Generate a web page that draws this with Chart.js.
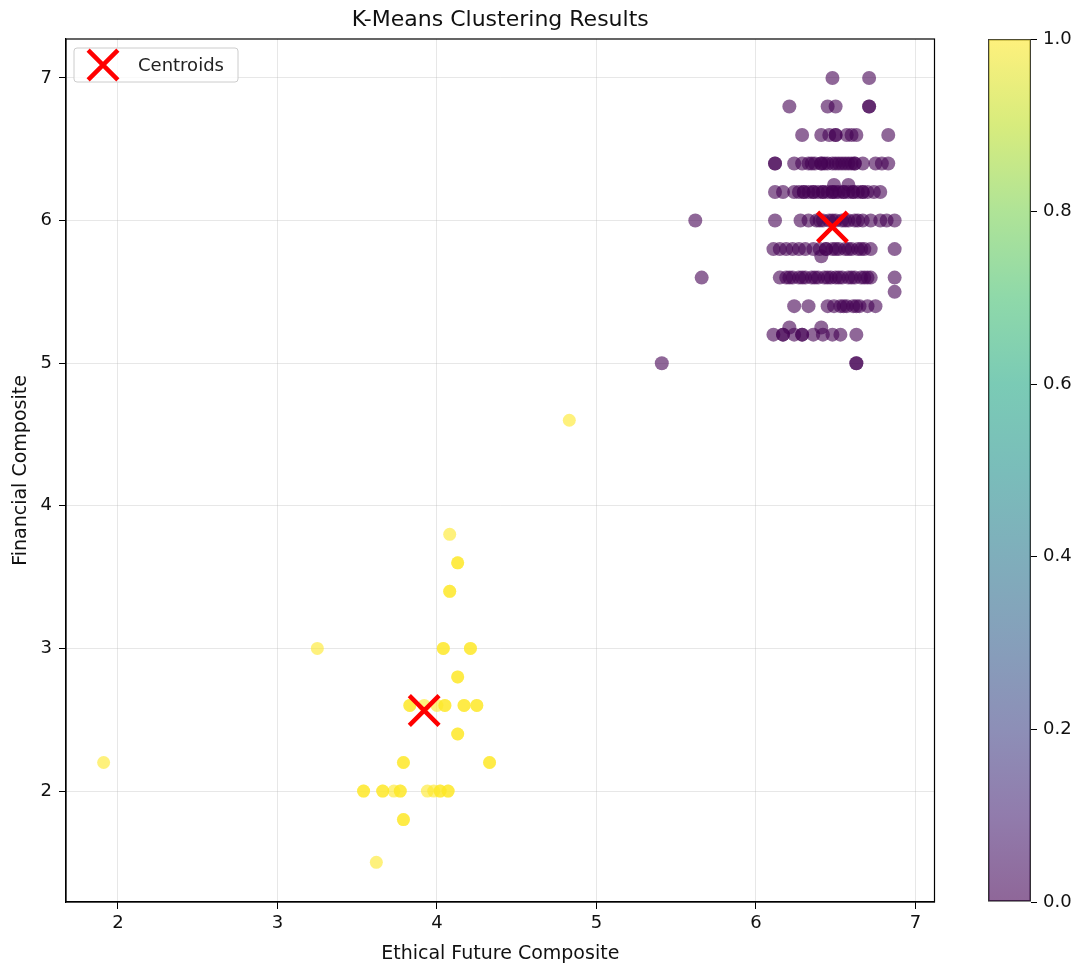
<!DOCTYPE html>
<html>
<head>
<meta charset="utf-8">
<script src="https://cdn.jsdelivr.net/npm/chart.js@4.4.1/dist/chart.umd.min.js"></script>
<style>
    body { margin: 0; background: #fff; }
    #wrap { position: relative; width: 1092px; height: 969px; }
    #scatterChart { position: absolute; left: 0; top: 0; }
    #colorbarChart { position: absolute; left: 960px; top: 0; }
</style>
</head>
<body>
<div id="wrap">
    <canvas id="scatterChart" width="960" height="969"></canvas>
    <canvas id="colorbarChart" width="132" height="969"></canvas>
</div>
<script>
// 클러스터 0 (보라색) 좌표 - 같은 값의 응답이 겹쳐 있음
const cluster0X = [
    6.48, 6.71,
    6.21, 6.45, 6.50, 6.71, 6.71,
    6.29, 6.41, 6.46, 6.50, 6.50, 6.57, 6.60, 6.63, 6.83,
    6.12, 6.12, 6.24, 6.29, 6.33, 6.37, 6.41, 6.41, 6.45, 6.48, 6.50, 6.54, 6.58, 6.62, 6.62, 6.67, 6.75, 6.79, 6.83,
    6.35, 6.43, 6.52, 6.56, 6.60,
    6.49, 6.58,
    6.12, 6.17, 6.24, 6.27, 6.30, 6.33, 6.36, 6.39, 6.42, 6.45, 6.48, 6.50, 6.52, 6.55, 6.58, 6.61, 6.64, 6.67, 6.70, 6.74, 6.78,
    6.30, 6.36, 6.42, 6.48, 6.55, 6.61, 6.67,
    5.62, 6.12, 6.28, 6.33, 6.38, 6.42, 6.46, 6.50, 6.54, 6.58, 6.62, 6.67, 6.72, 6.78, 6.82, 6.87,
    6.40, 6.48, 6.56, 6.64,
    6.11, 6.15, 6.19, 6.23, 6.27, 6.31, 6.36, 6.40, 6.44, 6.48, 6.52, 6.56, 6.60, 6.64, 6.68, 6.72, 6.87,
    6.44, 6.50, 6.58, 6.66,
    6.41,
    5.66, 6.15, 6.19, 6.23, 6.27, 6.31, 6.35, 6.39, 6.43, 6.47, 6.50, 6.54, 6.58, 6.62, 6.66, 6.70, 6.72, 6.87,
    6.21, 6.29, 6.37, 6.45, 6.52, 6.60, 6.68,
    6.87,
    6.24, 6.33, 6.45, 6.49, 6.53, 6.57, 6.61, 6.65, 6.70, 6.75,
    6.55, 6.63,
    6.21, 6.41,
    6.11, 6.17, 6.24, 6.29, 6.36, 6.42, 6.48, 6.53, 6.63,
    6.17, 6.29,
    5.41, 6.63, 6.63
];
const cluster0Y = [
    7.0, 7.0,
    6.8, 6.8, 6.8, 6.8, 6.8,
    6.6, 6.6, 6.6, 6.6, 6.6, 6.6, 6.6, 6.6, 6.6,
    6.4, 6.4, 6.4, 6.4, 6.4, 6.4, 6.4, 6.4, 6.4, 6.4, 6.4, 6.4, 6.4, 6.4, 6.4, 6.4, 6.4, 6.4, 6.4,
    6.4, 6.4, 6.4, 6.4, 6.4,
    6.25, 6.25,
    6.2, 6.2, 6.2, 6.2, 6.2, 6.2, 6.2, 6.2, 6.2, 6.2, 6.2, 6.2, 6.2, 6.2, 6.2, 6.2, 6.2, 6.2, 6.2, 6.2, 6.2,
    6.2, 6.2, 6.2, 6.2, 6.2, 6.2, 6.2,
    6.0, 6.0, 6.0, 6.0, 6.0, 6.0, 6.0, 6.0, 6.0, 6.0, 6.0, 6.0, 6.0, 6.0, 6.0, 6.0,
    6.0, 6.0, 6.0, 6.0,
    5.8, 5.8, 5.8, 5.8, 5.8, 5.8, 5.8, 5.8, 5.8, 5.8, 5.8, 5.8, 5.8, 5.8, 5.8, 5.8, 5.8,
    5.8, 5.8, 5.8, 5.8,
    5.75,
    5.6, 5.6, 5.6, 5.6, 5.6, 5.6, 5.6, 5.6, 5.6, 5.6, 5.6, 5.6, 5.6, 5.6, 5.6, 5.6, 5.6, 5.6,
    5.6, 5.6, 5.6, 5.6, 5.6, 5.6, 5.6,
    5.5,
    5.4, 5.4, 5.4, 5.4, 5.4, 5.4, 5.4, 5.4, 5.4, 5.4,
    5.4, 5.4,
    5.25, 5.25,
    5.2, 5.2, 5.2, 5.2, 5.2, 5.2, 5.2, 5.2, 5.2,
    5.2, 5.2,
    5.0, 5.0, 5.0
];

// 클러스터 1 (노란색) 좌표
const cluster1X = [
    4.83, 4.08, 4.13, 4.13, 4.08, 4.08, 3.25, 4.04, 4.04, 4.21, 4.21, 4.13, 4.13,
    3.83, 3.83, 3.92, 4.00, 4.05, 4.05, 4.17, 4.17, 4.25, 4.25,
    4.13, 4.13, 1.91, 3.79, 3.79, 4.33, 4.33,
    3.54, 3.54, 3.66, 3.66, 3.73, 3.77, 3.77, 3.94, 3.98, 4.02, 4.02, 4.07, 4.07,
    3.79, 3.79, 3.62
];
const cluster1Y = [
    4.6, 3.8, 3.6, 3.6, 3.4, 3.4, 3.0, 3.0, 3.0, 3.0, 3.0, 2.8, 2.8,
    2.6, 2.6, 2.6, 2.6, 2.6, 2.6, 2.6, 2.6, 2.6, 2.6,
    2.4, 2.4, 2.2, 2.2, 2.2, 2.2, 2.2,
    2.0, 2.0, 2.0, 2.0, 2.0, 2.0, 2.0, 2.0, 2.0, 2.0, 2.0, 2.0, 2.0,
    1.8, 1.8, 1.5
];

// 중심점
const centroidX = [6.48, 3.92];
const centroidY = [5.955, 2.565];

// 축 눈금
const xTicks = [2, 3, 4, 5, 6, 7];
const yTicks = [2, 3, 4, 5, 6, 7];
const colorbarTicks = [0, 0.2, 0.4, 0.6, 0.8, 1.0];

// viridis 색상표 (0.0 ~ 1.0, 0.1 간격)
const viridis = ['#440154', '#482475', '#414487', '#355f8d', '#2a788e', '#21918c',
                 '#22a884', '#44bf70', '#7ad151', '#bddf26', '#fde725'];

function withAlpha(hex, a) {
    const r = parseInt(hex.slice(1, 3), 16);
    const g = parseInt(hex.slice(3, 5), 16);
    const b = parseInt(hex.slice(5, 7), 16);
    return `rgba(${r}, ${g}, ${b}, ${a})`;
}

const toPoints = (xs, ys) => xs.map((x, i) => ({x: x, y: ys[i]}));

const FONT = 'DejaVu Sans';

// 범례 상자 (플롯 안 왼쪽 위)
const legendBoxPlugin = {
    id: 'legendBox',
    afterDatasetsDraw(chart) {
        const ctx = chart.ctx;
        const area = chart.chartArea;
        const ds = chart.data.datasets[0];
        const x = area.left + 8, y = area.top + 9, w = 164, h = 34;

        ctx.save();
        ctx.fillStyle = 'rgba(255, 255, 255, 0.8)';
        ctx.strokeStyle = '#cccccc';
        ctx.lineWidth = 1;
        ctx.beginPath();
        ctx.roundRect(x, y, w, h, 3);
        ctx.fill();
        ctx.stroke();

        Chart.helpers.drawPoint(ctx, {
            pointStyle: ds.pointStyle,
            radius: ds.pointRadius,
            rotation: 0,
            borderWidth: ds.borderWidth
        }, x + 29, y + h / 2);
        ctx.strokeStyle = ds.borderColor;
        ctx.lineWidth = ds.borderWidth;
        ctx.stroke();

        ctx.fillStyle = '#222';
        ctx.font = `18px "${FONT}"`;
        ctx.textBaseline = 'middle';
        ctx.fillText(ds.label, x + 64, y + h / 2 + 1);
        ctx.restore();
    }
};

document.addEventListener("DOMContentLoaded", function() {

    // 산점도
    const ctx = document.getElementById('scatterChart').getContext('2d');
    new Chart(ctx, {
        type: 'scatter',
        data: {
            datasets: [{
                label: 'Centroids',
                data: toPoints(centroidX, centroidY),
                pointStyle: 'crossRot',
                pointRadius: 21,
                borderWidth: 4.5,
                borderColor: '#ff0000',
                backgroundColor: '#ff0000',
                order: 0
            }, {
                label: 'Cluster 0',
                data: toPoints(cluster0X, cluster0Y),
                pointRadius: 7,
                borderWidth: 0,
                backgroundColor: withAlpha(viridis[0], 0.6),
                order: 1
            }, {
                label: 'Cluster 1',
                data: toPoints(cluster1X, cluster1Y),
                pointRadius: 6.5,
                borderWidth: 0,
                backgroundColor: withAlpha(viridis[10], 0.6),
                order: 2
            }]
        },
        options: {
            responsive: false,
            animation: false,
            layout: {
                padding: {left: 0, right: 12, top: 0, bottom: 0}
            },
            plugins: {
                legend: { display: false },
                tooltip: { enabled: false },
                title: {
                    display: true,
                    text: 'K-Means Clustering Results',
                    fullSize: false,
                    color: '#111',
                    font: { family: FONT, size: 22, weight: 'normal', lineHeight: 1.2 },
                    padding: { top: 7, bottom: 5.6 }
                }
            },
            scales: {
                x: {
                    type: 'linear',
                    min: 1.674,
                    max: 7.12,
                    afterBuildTicks: scale => { scale.ticks = xTicks.map(v => ({value: v})); },
                    afterFit: scale => { scale.height = 67; },
                    ticks: {
                        color: '#111',
                        font: { family: FONT, size: 18 },
                        padding: 4
                    },
                    grid: {
                        color: 'rgba(176, 176, 176, 0.3)',
                        tickColor: '#000',
                        tickLength: 7
                    },
                    border: { display: true, color: '#000', width: 1.2 },
                    title: {
                        display: true,
                        text: 'Ethical Future Composite',
                        color: '#111',
                        font: { family: FONT, size: 19 },
                        padding: { top: 4, bottom: 4 }
                    }
                },
                y: {
                    type: 'linear',
                    min: 1.222,
                    max: 7.273,
                    afterBuildTicks: scale => { scale.ticks = yTicks.map(v => ({value: v})); },
                    afterFit: scale => { scale.width = 66; },
                    ticks: {
                        color: '#111',
                        font: { family: FONT, size: 18 },
                        padding: 7
                    },
                    grid: {
                        color: 'rgba(176, 176, 176, 0.3)',
                        tickColor: '#000',
                        tickLength: 7
                    },
                    border: { display: true, color: '#000', width: 1.2 },
                    title: {
                        display: true,
                        text: 'Financial Composite',
                        color: '#111',
                        font: { family: FONT, size: 19 },
                        padding: { top: 10, bottom: 4 }
                    }
                }
            }
        },
        plugins: [legendBoxPlugin, {
            // 플롯 테두리 (위/오른쪽)
            id: 'frame',
            afterDraw(chart) {
                const a = chart.chartArea;
                const c = chart.ctx;
                c.save();
                c.strokeStyle = '#000';
                c.lineWidth = 1.2;
                c.strokeRect(a.left, a.top, a.right - a.left, a.bottom - a.top);
                c.restore();
            }
        }]
    });

    // 컬러바
    const cbCtx = document.getElementById('colorbarChart').getContext('2d');
    new Chart(cbCtx, {
        type: 'bar',
        data: {
            labels: [''],
            datasets: [{
                data: [[0, 1]],
                backgroundColor: function(context) {
                    const area = context.chart.chartArea;
                    if (!area) return withAlpha(viridis[5], 0.6);
                    const g = context.chart.ctx.createLinearGradient(0, area.bottom, 0, area.top);
                    viridis.forEach((c, i) => g.addColorStop(i / (viridis.length - 1), withAlpha(c, 0.6)));
                    return g;
                },
                borderColor: '#333',
                borderWidth: 1.2,
                borderSkipped: false,
                barPercentage: 1,
                categoryPercentage: 1
            }]
        },
        options: {
            responsive: false,
            animation: false,
            layout: {
                padding: {left: 28, right: 0, top: 39, bottom: 67}
            },
            plugins: {
                legend: { display: false },
                tooltip: { enabled: false }
            },
            scales: {
                x: { display: false },
                y: {
                    position: 'right',
                    min: 0,
                    max: 1,
                    afterBuildTicks: scale => { scale.ticks = colorbarTicks.map(v => ({value: v})); },
                    afterFit: scale => { scale.width = 61; },
                    ticks: {
                        color: '#111',
                        font: { family: FONT, size: 18 },
                        padding: 6,
                        callback: v => v.toFixed(1)
                    },
                    grid: {
                        drawOnChartArea: false,
                        tickColor: '#000',
                        tickLength: 6
                    },
                    border: { display: false }
                }
            }
        }
    });
});
</script>
</body>
</html>
